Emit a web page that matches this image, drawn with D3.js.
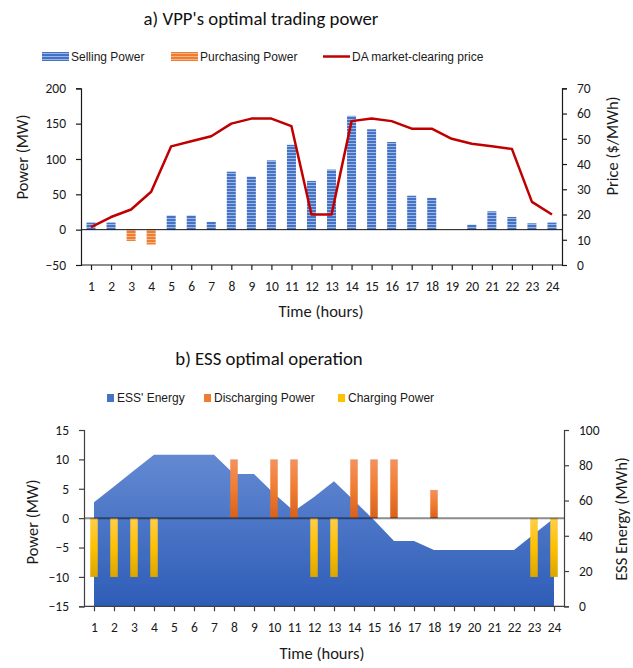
<!DOCTYPE html>
<html>
<head>
<meta charset="utf-8">
<script src="https://cdn.jsdelivr.net/npm/d3@7"></script>
<style>
  html, body { margin: 0; padding: 0; background: #fff; }
  svg { display: block; }
  .tick-label { font-family: Carlito, Calibri, Lato, sans-serif; font-size: 13.5px; fill: #1a1a1a; }
  .axis-title { font-family: Carlito, Calibri, Lato, sans-serif; font-size: 16.5px; fill: #1a1a1a; }
  .chart-title { font-family: Carlito, Calibri, Lato, sans-serif; font-size: 18.8px; fill: #111; }
  .legend-text { font-family: "Liberation Sans", Arial, sans-serif; font-size: 12px; fill: #1a1a1a; }
</style>
</head>
<body>
<svg id="chart" width="633" height="668"></svg>
<script>
// Hours of the day
const hours = [1,2,3,4,5,6,7,8,9,10,11,12,13,14,15,16,17,18,19,20,21,22,23,24];

// a) VPP trading
const sellingPower    = [10,10,0,0,20,20,11,82,75,98,120,69,85,161,142,124,48,45,0,7,26,18,9,10];
const purchasingPower = [0,0,-16,-21,0,0,0,0,0,0,0,0,0,0,0,0,0,0,0,0,0,0,0,0];
const daPrice         = [15,19,22,29,47,49,51,56,58,58,55,20,20,57,58,57,54,54,50,48,47,46,25,20];
const powerTicksA     = [-50,0,50,100,150,200];
const priceTicks      = [0,10,20,30,40,50,60,70];

// b) ESS operation
const essEnergy        = [59,68,77,86,86,86,86,75,75,64,54,62,71,60,49,37,37,32,32,32,32,32,41,50];
const dischargingPower = [0,0,0,0,0,0,0,10,0,10,10,0,0,10,10,10,0,4.8,0,0,0,0,0,0];
const chargingPower    = [-10,-10,-10,-10,0,0,0,0,0,0,0,-10,-10,0,0,0,0,0,0,0,0,0,-10,-10];
const powerTicksB      = [-15,-10,-5,0,5,10,15];
const energyTicks      = [0,20,40,60,80,100];

const svg = d3.select("#chart");
const defs = svg.append("defs");

// striped fills for the trading bars
function stripe(id, base, light) {
  const p = defs.append("pattern").attr("id", id)
    .attr("patternUnits", "userSpaceOnUse").attr("width", 6).attr("height", 3);
  p.append("rect").attr("width", 6).attr("height", 3).attr("fill", base);
  p.append("rect").attr("y", 2).attr("width", 6).attr("height", 1).attr("fill", light);
}
stripe("sellStripe", "#4472c4", "#9fb6e3");
stripe("buyStripe", "#ed7d31", "#f6b68c");

// vertical gradients for the ESS chart
function vgrad(id, stops) {
  const g = defs.append("linearGradient").attr("id", id)
    .attr("x1", 0).attr("y1", 0).attr("x2", 0).attr("y2", 1);
  stops.forEach(([o, c]) => g.append("stop").attr("offset", o).attr("stop-color", c));
}
vgrad("energyFill", [[0, "#6389d2"], [1, "#2e5db7"]]);
vgrad("dischargeFill", [[0, "#f39260"], [0.5, "#f07c2f"], [1, "#d9611c"]]);
vgrad("chargeFill", [[0, "#ffcf4a"], [0.5, "#ffc000"], [1, "#dca600"]]);

/* ---------- a) VPP's optimal trading power ---------- */
const A = { left: 81, right: 562, top: 88.3, bottom: 265 };
const xA = d3.scalePoint().domain(hours).range([A.left, A.right]).padding(0.5);
const yA = d3.scaleLinear().domain([-50, 200]).range([A.bottom, A.top]);
const yP = d3.scaleLinear().domain([0, 70]).range([A.bottom, A.top]);
const barWA = 9;

svg.append("text").attr("class", "chart-title")
  .attr("x", 261).attr("y", 25).attr("text-anchor", "middle")
  .text("a) VPP's optimal trading power");

// legend
const legA = svg.append("g");
legA.append("rect").attr("x", 42).attr("y", 52).attr("width", 27).attr("height", 9).attr("fill", "url(#sellStripe)");
legA.append("text").attr("class", "legend-text").attr("x", 71).attr("y", 61).text("Selling Power");
legA.append("rect").attr("x", 171).attr("y", 52).attr("width", 27).attr("height", 9).attr("fill", "url(#buyStripe)");
legA.append("text").attr("class", "legend-text").attr("x", 200).attr("y", 61).text("Purchasing Power");
legA.append("line").attr("x1", 323).attr("x2", 350).attr("y1", 56.5).attr("y2", 56.5)
  .attr("stroke", "#c00000").attr("stroke-width", 2.5);
legA.append("text").attr("class", "legend-text").attr("x", 352).attr("y", 61).text("DA market-clearing price");

// bars
svg.append("g").selectAll("rect")
  .data(hours.map((h, i) => ({ h, v: sellingPower[i] })).filter(d => d.v !== 0))
  .join("rect")
  .attr("x", d => xA(d.h) - barWA / 2).attr("width", barWA)
  .attr("y", d => yA(d.v)).attr("height", d => yA(0) - yA(d.v))
  .attr("fill", "url(#sellStripe)");
svg.append("g").selectAll("rect")
  .data(hours.map((h, i) => ({ h, v: purchasingPower[i] })).filter(d => d.v !== 0))
  .join("rect")
  .attr("x", d => xA(d.h) - barWA / 2).attr("width", barWA)
  .attr("y", yA(0)).attr("height", d => yA(d.v) - yA(0))
  .attr("fill", "url(#buyStripe)");

// zero line
svg.append("line").attr("x1", A.left).attr("x2", A.right)
  .attr("y1", yA(0)).attr("y2", yA(0)).attr("stroke", "#111").attr("stroke-width", 1);

// price line
svg.append("path")
  .datum(daPrice)
  .attr("fill", "none").attr("stroke", "#c00000").attr("stroke-width", 2.5)
  .attr("stroke-linejoin", "round")
  .attr("d", d3.line().x((d, i) => xA(hours[i])).y(d => yP(d)));

// axes
function styleAxis(g, color) {
  g.select(".domain").attr("stroke", color).attr("stroke-width", 1.2);
  g.selectAll(".tick line").attr("stroke", color).attr("stroke-width", 1.2);
  g.selectAll(".tick text").attr("class", "tick-label").attr("fill", null);
}
svg.append("g").attr("transform", `translate(0,${A.bottom})`)
  .call(d3.axisBottom(xA).tickSizeOuter(0).tickSize(5).tickPadding(11))
  .call(g => g.select(".domain").attr("d", `M${A.left},0H${A.right}`))
  .call(g => styleAxis(g, "#1a1a1a"));
svg.append("g").attr("transform", `translate(${A.left},0)`)
  .call(d3.axisLeft(yA).tickValues(powerTicksA).tickSizeOuter(0).tickSize(5).tickPadding(10))
  .call(g => styleAxis(g, "#1a1a1a"));
svg.append("g").attr("transform", `translate(${A.right},0)`)
  .call(d3.axisRight(yP).tickValues(priceTicks).tickSizeOuter(0).tickSize(5).tickPadding(10))
  .call(g => styleAxis(g, "#1a1a1a"));

svg.append("text").attr("class", "axis-title")
  .attr("transform", "translate(28,157) rotate(-90)").attr("text-anchor", "middle")
  .text("Power (MW)");
svg.append("text").attr("class", "axis-title")
  .attr("transform", "translate(618,146) rotate(-90)").attr("text-anchor", "middle")
  .text("Price ($/MWh)");
svg.append("text").attr("class", "axis-title")
  .attr("x", 321).attr("y", 317).attr("text-anchor", "middle")
  .text("Time (hours)");

/* ---------- b) ESS optimal operation ---------- */
const B = { left: 84, right: 564, top: 430, bottom: 606.3 };
const xB = d3.scalePoint().domain(hours).range([B.left, B.right]).padding(0.5);
const yB = d3.scaleLinear().domain([-15, 15]).range([B.bottom, B.top]);
const yE = d3.scaleLinear().domain([0, 100]).range([B.bottom, B.top]);
const barWB = 7.5;

svg.append("text").attr("class", "chart-title")
  .attr("x", 269).attr("y", 365).attr("text-anchor", "middle")
  .text("b) ESS optimal operation");

const legB = svg.append("g");
legB.append("rect").attr("x", 107).attr("y", 394).attr("width", 7).attr("height", 8).attr("fill", "#4472c4");
legB.append("text").attr("class", "legend-text").attr("x", 117).attr("y", 402).text("ESS' Energy");
legB.append("rect").attr("x", 204).attr("y", 394).attr("width", 7).attr("height", 8).attr("fill", "#ed7d31");
legB.append("text").attr("class", "legend-text").attr("x", 214).attr("y", 402).text("Discharging Power");
legB.append("rect").attr("x", 338).attr("y", 394).attr("width", 7).attr("height", 8).attr("fill", "#ffc000");
legB.append("text").attr("class", "legend-text").attr("x", 348).attr("y", 402).text("Charging Power");

// stored energy area
svg.append("path")
  .datum(essEnergy)
  .attr("fill", "url(#energyFill)")
  .attr("d", d3.area().x((d, i) => xB(hours[i])).y0(yE(0)).y1(d => yE(d)));

// discharging / charging bars
svg.append("g").selectAll("rect")
  .data(hours.map((h, i) => ({ h, v: dischargingPower[i] })).filter(d => d.v !== 0))
  .join("rect")
  .attr("x", d => xB(d.h) - barWB / 2).attr("width", barWB)
  .attr("y", d => yB(d.v)).attr("height", d => yB(0) - yB(d.v))
  .attr("fill", "url(#dischargeFill)");
svg.append("g").selectAll("rect")
  .data(hours.map((h, i) => ({ h, v: chargingPower[i] })).filter(d => d.v !== 0))
  .join("rect")
  .attr("x", d => xB(d.h) - barWB / 2).attr("width", barWB)
  .attr("y", yB(0)).attr("height", d => yB(d.v) - yB(0))
  .attr("fill", "url(#chargeFill)");

// zero line
svg.append("line").attr("x1", B.left).attr("x2", B.right)
  .attr("y1", yB(0)).attr("y2", yB(0)).attr("stroke", "#000")
  .attr("stroke-opacity", 0.45).attr("stroke-width", 2);

svg.append("g").attr("transform", `translate(0,${B.bottom})`)
  .call(d3.axisBottom(xB).tickSizeOuter(0).tickSize(5).tickPadding(11))
  .call(g => g.select(".domain").attr("d", `M${B.left},0H${B.right}`))
  .call(g => styleAxis(g, "#404040"));
svg.append("g").attr("transform", `translate(${B.left},0)`)
  .call(d3.axisLeft(yB).tickValues(powerTicksB).tickSizeOuter(0).tickSize(5).tickPadding(10))
  .call(g => styleAxis(g, "#404040"));
svg.append("g").attr("transform", `translate(${B.right},0)`)
  .call(d3.axisRight(yE).tickValues(energyTicks).tickSizeOuter(0).tickSize(5).tickPadding(10))
  .call(g => styleAxis(g, "#404040"));

svg.append("text").attr("class", "axis-title")
  .attr("transform", "translate(38,522) rotate(-90)").attr("text-anchor", "middle")
  .text("Power (MW)");
svg.append("text").attr("class", "axis-title")
  .attr("transform", "translate(627,519) rotate(-90)").attr("text-anchor", "middle")
  .text("ESS Energy (MWh)");
svg.append("text").attr("class", "axis-title")
  .attr("x", 322).attr("y", 659).attr("text-anchor", "middle")
  .text("Time (hours)");
</script>
</body>
</html>
